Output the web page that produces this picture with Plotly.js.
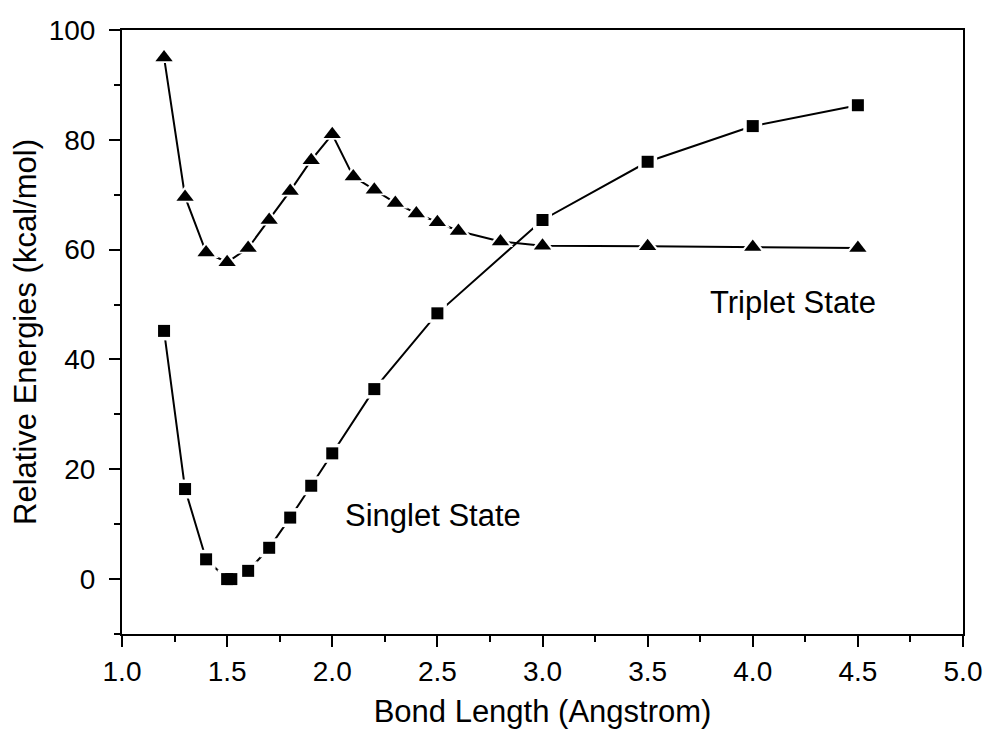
<!DOCTYPE html>
<html>
<head>
<meta charset="utf-8">
<script src="https://cdn.plot.ly/plotly-3.0.1.min.js"></script>
<style>
  html, body { margin: 0; padding: 0; background: #fff; }
  #chart { width: 985px; height: 729px; }
</style>
</head>
<body>
<div id="chart"></div>
<script>
// Singlet state (squares)
const singletX = [1.2, 1.3, 1.4, 1.5, 1.52, 1.6, 1.7, 1.8, 1.9, 2.0, 2.2, 2.5, 3.0, 3.5, 4.0, 4.5];
const singletY = [45.2, 16.4, 3.6, 0.0, 0.0, 1.5, 5.7, 11.2, 17.0, 22.9, 34.6, 48.4, 65.4, 76.0, 82.5, 86.3];

// Triplet state (triangles)
const tripletX = [1.2, 1.3, 1.4, 1.5, 1.6, 1.7, 1.8, 1.9, 2.0, 2.1, 2.2, 2.3, 2.4, 2.5, 2.6, 2.8, 3.0, 3.5, 4.0, 4.5];
const tripletY = [95.0, 69.6, 59.5, 57.7, 60.3, 65.4, 70.7, 76.3, 81.0, 73.3, 70.9, 68.5, 66.6, 65.0, 63.4, 61.5, 60.7, 60.6, 60.5, 60.3];

const xTickVals = [1.0, 1.5, 2.0, 2.5, 3.0, 3.5, 4.0, 4.5, 5.0];
const xTickText = ["1.0", "1.5", "2.0", "2.5", "3.0", "3.5", "4.0", "4.5", "5.0"];
const yTickVals = [0, 20, 40, 60, 80, 100];

const labels = [
  {text: "Singlet State", x: 2.48, y: 11.5},
  {text: "Triplet State", x: 4.19, y: 50.3}
];

const FONT = "Arial, 'Liberation Sans', sans-serif";

function lineTrace(x, y) {
  return {x: x, y: y, mode: "lines", type: "scatter",
          line: {color: "#000", width: 2}, hoverinfo: "skip", showlegend: false};
}
function gapTrace(x, y, sym, size) {
  return {x: x, y: y, mode: "markers", type: "scatter",
          marker: {symbol: sym, size: size, color: "#fff"}, hoverinfo: "skip", showlegend: false};
}
function markTrace(x, y, sym, size) {
  return {x: x, y: y, mode: "markers", type: "scatter",
          marker: {symbol: sym, size: size, color: "#000"}, showlegend: false};
}

const data = [
  lineTrace(tripletX, tripletY),
  lineTrace(singletX, singletY),
  gapTrace(tripletX, tripletY, "triangle-up", 22),
  gapTrace(singletX, singletY, "square", 19),
  markTrace(tripletX, tripletY, "triangle-up", 15),
  markTrace(singletX, singletY, "square", 12)
];

const layout = {
  width: 985, height: 729,
  margin: {l: 122, r: 22, t: 30, b: 95},
  paper_bgcolor: "#fff", plot_bgcolor: "#fff",
  font: {family: FONT, color: "#000", size: 28},
  xaxis: {
    range: [1.0, 5.0],
    tickvals: xTickVals, ticktext: xTickText,
    ticks: "outside", ticklen: 11, tickwidth: 2, tickcolor: "#000",
    minor: {dtick: 0.25, ticks: "outside", ticklen: 6, tickwidth: 2, tickcolor: "#000", showgrid: false},
    showline: true, linewidth: 2, linecolor: "#000", mirror: true,
    showgrid: false, zeroline: false,
    tickfont: {family: FONT, size: 28, color: "#000"},
    title: {text: "Bond Length (Angstrom)", font: {family: FONT, size: 31, color: "#000"}, standoff: 15}
  },
  yaxis: {
    range: [-10, 100],
    tickvals: yTickVals,
    ticks: "outside", ticklen: 11, tickwidth: 2, tickcolor: "#000",
    ticklabelstandoff: 8,
    minor: {dtick: 10, ticks: "outside", ticklen: 6, tickwidth: 2, tickcolor: "#000", showgrid: false},
    showline: true, linewidth: 2, linecolor: "#000", mirror: true,
    showgrid: false, zeroline: false,
    tickfont: {family: FONT, size: 28, color: "#000"},
    title: {text: "Relative Energies (kcal/mol)", font: {family: FONT, size: 31, color: "#000"}, standoff: 3}
  },
  annotations: labels.map(l => ({
    x: l.x, y: l.y, xref: "x", yref: "y", text: l.text, showarrow: false,
    font: {family: FONT, size: 31, color: "#000"}
  }))
};

Plotly.newPlot("chart", data, layout, {displayModeBar: false, staticPlot: true});
</script>
</body>
</html>
